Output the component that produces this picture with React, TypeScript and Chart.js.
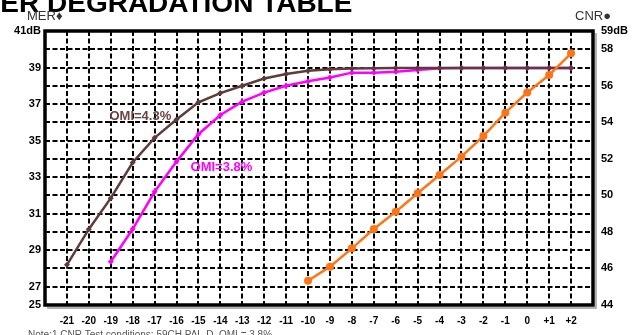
import React, { useEffect, useRef } from "react";
import { Chart, registerables } from "chart.js";

Chart.register(...registerables);

const xValues = [-21, -20, -19, -18, -17, -16, -15, -14, -13, -12, -11, -10, -9, -8, -7, -6, -5, -4, -3, -2, -1, 0, 1, 2];
const merOmi43 = [28.2, 30.15, 31.85, 33.8, 35.15, 36.15, 37.1, 37.6, 38.0, 38.4, 38.65, 38.82, 38.9, 38.95, 38.96, 38.97, 38.97, 38.97, 38.97, 38.97, 38.97, 38.97, 38.97, 38.97];
const merOmi38X = [-19, -18, -17, -16, -15, -14, -13, -12, -11, -10, -9, -8, -7, -6, -5, -4, -3, -2, -1, 0, 1, 2];
const merOmi38 = [28.37, 30.16, 32.2, 33.85, 35.35, 36.4, 37.13, 37.63, 38.0, 38.25, 38.45, 38.72, 38.72, 38.77, 38.87, 38.96, 38.97, 38.97, 38.97, 38.97, 38.97, 38.97];
const cnrX = [-10, -9, -8, -7, -6, -5, -4, -3, -2, -1, 0, 1, 2];
const cnrValues = [45.33, 46.1, 47.1, 48.16, 49.11, 50.12, 51.12, 52.12, 53.25, 54.53, 55.63, 56.59, 57.78];
const titleText = "MER DEGRADATION TABLE";
const noteText = "Note:1.CNR Test conditions: 59CH PAL-D, OMI = 3.8%";

const FONT = "Arial, 'Liberation Sans', sans-serif";

const decorPlugin = {
  id: "decor",
  afterDatasetsDraw(chart: any) {
    const { ctx, chartArea, scales } = chart;
    const { left, right, top, bottom } = chartArea;
    ctx.save();
    // shadow
    ctx.strokeStyle = "#9a9a9a";
    ctx.lineWidth = 1.5;
    ctx.beginPath();
    ctx.moveTo(right + 3, top + 2);
    ctx.lineTo(right + 3, bottom + 3);
    ctx.lineTo(left + 2, bottom + 3);
    ctx.stroke();
    // frame
    ctx.strokeStyle = "#000";
    ctx.lineWidth = 3.5;
    ctx.strokeRect(left, top, right - left, bottom - top);

    // series labels
    const x = scales.x;
    const yL = scales.yL;
    ctx.font = `bold 13px ${FONT}`;
    ctx.textAlign = "center";
    ctx.textBaseline = "middle";
    ctx.fillStyle = "#6a4440";
    ctx.fillText("OMI=4.3%", x.getPixelForValue(-17.65), yL.getPixelForValue(36.3));
    ctx.fillStyle = "#ff00ff";
    ctx.fillText("OMI=3.8%", x.getPixelForValue(-13.95), yL.getPixelForValue(33.55));

    // title
    ctx.fillStyle = "#000";
    ctx.textAlign = "left";
    ctx.textBaseline = "alphabetic";
    ctx.font = `bold 28px ${FONT}`;
    ctx.fillText(titleText, -23, 12);

    // axis names
    ctx.font = `13px ${FONT}`;
    ctx.fillStyle = "#333";
    ctx.fillText("MER\u2666", 27, 19.5);
    ctx.fillText("CNR\u25CF", 575, 19.5);

    // note
    ctx.font = `10px ${FONT}`;
    ctx.fillStyle = "#555";
    ctx.textBaseline = "top";
    ctx.fillText(noteText, 28, 330);
    ctx.restore();
  },
};

export default function App() {
  const ref = useRef<HTMLCanvasElement>(null);
  useEffect(() => {
    document.body.style.margin = "0";
    const chart = new Chart(ref.current as HTMLCanvasElement, {
      type: "line",
      data: {
        datasets: [
          {
            label: "CNR",
            data: cnrX.map((v, i) => ({ x: v, y: cnrValues[i] })),
            yAxisID: "yR",
            borderColor: "#ff7515",
            backgroundColor: "#ff7515",
            borderWidth: 2.5,
            pointRadius: 4,
            pointStyle: "circle",
            pointBorderWidth: 0,
          },
          {
            label: "OMI=4.3%",
            data: xValues.map((v, i) => ({ x: v, y: merOmi43[i] })),
            yAxisID: "yL",
            borderColor: "#5e3c3a",
            backgroundColor: "#5e3c3a",
            borderWidth: 2.5,
            pointRadius: 3,
            pointStyle: "rectRot",
            pointBorderWidth: 0,
          },
          {
            label: "OMI=3.8%",
            data: merOmi38X.map((v, i) => ({ x: v, y: merOmi38[i] })),
            yAxisID: "yL",
            borderColor: "#ff00ff",
            backgroundColor: "#ff00ff",
            borderWidth: 2.5,
            pointRadius: 3,
            pointStyle: "rectRot",
            pointBorderWidth: 0,
          },
        ],
      },
      options: {
        animation: false,
        responsive: true,
        maintainAspectRatio: false,
        layout: { padding: { top: 31, left: 0, right: 0, bottom: 0 } },
        plugins: { legend: { display: false }, title: { display: false }, tooltip: { enabled: false } },
        scales: {
          x: {
            type: "linear",
            min: -22,
            max: 3,
            afterFit: (s: any) => { s.height = 30; },
            afterBuildTicks: (s: any) => {
              const t = [];
              for (let v = -22; v <= 3; v++) t.push({ value: v });
              s.ticks = t;
            },
            ticks: {
              autoSkip: false,
              maxRotation: 0,
              padding: 10,
              color: "#000",
              font: { family: FONT, size: 10, weight: "bold" },
              callback: (v: any) => (v === -22 || v === 3 ? "" : v > 0 ? "+" + v : String(v)),
            },
            grid: { color: "#000", lineWidth: 2, drawTicks: false },
            border: { display: false, dash: [5, 2.5] },
          },
          yL: {
            type: "linear",
            position: "left",
            min: 26,
            max: 41,
            afterFit: (s: any) => { s.width = 45; },
            afterBuildTicks: (s: any) => {
              const t = [];
              for (let v = 26; v <= 41; v++) t.push({ value: v });
              s.ticks = t;
            },
            ticks: {
              autoSkip: false,
              padding: 4,
              color: "#000",
              font: { family: FONT, size: 11, weight: "bold" },
              callback: (v: any) => (v === 41 ? "41dB" : v === 26 ? "25" : v % 2 === 1 ? String(v) : ""),
            },
            grid: { color: "#000", lineWidth: 2, drawTicks: false },
            border: { display: false, dash: [5, 2.5] },
          },
          yR: {
            type: "linear",
            position: "right",
            min: 44,
            max: 59,
            afterFit: (s: any) => { s.width = 41; },
            afterBuildTicks: (s: any) => {
              const t = [];
              for (let v = 44; v <= 59; v++) t.push({ value: v });
              s.ticks = t;
            },
            ticks: {
              autoSkip: false,
              padding: 8,
              color: "#000",
              font: { family: FONT, size: 11, weight: "bold" },
              callback: (v: any) => (v === 59 ? "59dB" : v % 2 === 0 ? String(v) : ""),
            },
            grid: { display: false, drawTicks: false },
            border: { display: false },
          },
        },
      } as any,
      plugins: [decorPlugin],
    });
    return () => chart.destroy();
  }, []);
  return (
    <div style={{ position: "fixed", left: 0, top: 0, width: 634, height: 335, background: "#fff" }}>
      <canvas ref={ref} />
    </div>
  );
}
